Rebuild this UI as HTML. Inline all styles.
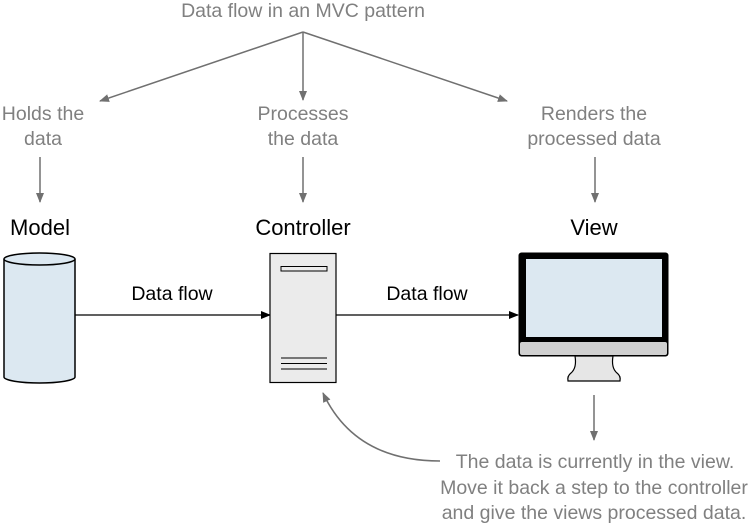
<!DOCTYPE html>
<html><head><style>
body{margin:0;background:#fff;}
svg{display:block;font-family:"Liberation Sans",Arial,sans-serif;}
.g{fill:#808080;font-size:19.5px;}
.b{fill:#000;font-size:22px;}
</style></head><body>
<svg width="750" height="524" viewBox="0 0 750 524">
<defs>
<marker id="ag" markerWidth="10" markerHeight="8" refX="9" refY="4" orient="auto" markerUnits="userSpaceOnUse"><path d="M0,0 L10,4 L0,8 z" fill="#707070"/></marker>
<marker id="ab" markerWidth="10" markerHeight="8" refX="9" refY="4" orient="auto" markerUnits="userSpaceOnUse"><path d="M0,0 L10,4 L0,8 z" fill="#000"/></marker>
</defs>
<text class="g" x="303" y="17" text-anchor="middle">Data flow in an MVC pattern</text>
<g stroke="#707070" stroke-width="1.5" fill="none">
<line x1="303" y1="32" x2="100" y2="101" marker-end="url(#ag)"/>
<line x1="303" y1="32" x2="303" y2="100" marker-end="url(#ag)"/>
<line x1="303" y1="32" x2="507" y2="101" marker-end="url(#ag)"/>
<line x1="40" y1="157" x2="40" y2="202" marker-end="url(#ag)"/>
<line x1="303" y1="157" x2="303" y2="202" marker-end="url(#ag)"/>
<line x1="595" y1="157" x2="595" y2="202" marker-end="url(#ag)"/>
<line x1="594" y1="395" x2="594" y2="440" marker-end="url(#ag)"/>
<path d="M440,461 C385,461 345,440 323,393" marker-end="url(#ag)"/>
</g>
<text class="g" x="43" y="120" text-anchor="middle">Holds the</text>
<text class="g" x="43" y="145" text-anchor="middle">data</text>
<text class="g" x="303" y="120" text-anchor="middle">Processes</text>
<text class="g" x="303" y="145" text-anchor="middle">the data</text>
<text class="g" x="594" y="120" text-anchor="middle">Renders the</text>
<text class="g" x="594" y="145" text-anchor="middle">processed data</text>
<text class="b" x="40" y="235" text-anchor="middle">Model</text>
<text class="b" x="303" y="235" text-anchor="middle">Controller</text>
<text class="b" x="594" y="235" text-anchor="middle">View</text>
<path d="M4,259 L4,377 A35.5,6 0 0 0 75,377 L75,259" fill="#dce8f1" stroke="#000" stroke-width="1.5"/>
<ellipse cx="39.5" cy="259" rx="35.5" ry="6" fill="#dce8f1" stroke="#000" stroke-width="1.5"/>
<line x1="75" y1="315" x2="270" y2="315" stroke="#000" stroke-width="1.3" marker-end="url(#ab)"/>
<line x1="336" y1="315" x2="518" y2="315" stroke="#000" stroke-width="1.3" marker-end="url(#ab)"/>
<text x="172" y="300" font-size="19.5" text-anchor="middle">Data flow</text>
<text x="427" y="300" font-size="19.5" text-anchor="middle">Data flow</text>
<rect x="270" y="253.5" width="66" height="129" fill="#ebebeb" stroke="#000" stroke-width="1.2"/>
<rect x="281" y="266.5" width="46" height="4.5" fill="#ebebeb" stroke="#000" stroke-width="1"/>
<g stroke="#000" stroke-width="1"><line x1="281" y1="358" x2="327" y2="358"/><line x1="281" y1="363.5" x2="327" y2="363.5"/><line x1="281" y1="369" x2="327" y2="369"/></g>
<path d="M575,356 Q577,368 571,373 Q567,376 568,381 L620,381 Q621,376 617,373 Q611,368 613,356 z" fill="#e6e6e6" stroke="#000" stroke-width="1.2"/>
<rect x="518.5" y="252.5" width="150" height="104" rx="3" fill="#000"/>
<rect x="520" y="342" width="147" height="13" rx="2" fill="#d0d0d0"/>
<rect x="526" y="259" width="136" height="78" fill="#dce8f1"/>
<text class="g" x="595" y="468" text-anchor="middle">The data is currently in the view.</text>
<text class="g" x="594" y="494" text-anchor="middle">Move it back a step to the controller</text>
<text class="g" x="594" y="519" text-anchor="middle">and give the views processed data.</text>
</svg>
</body></html>
